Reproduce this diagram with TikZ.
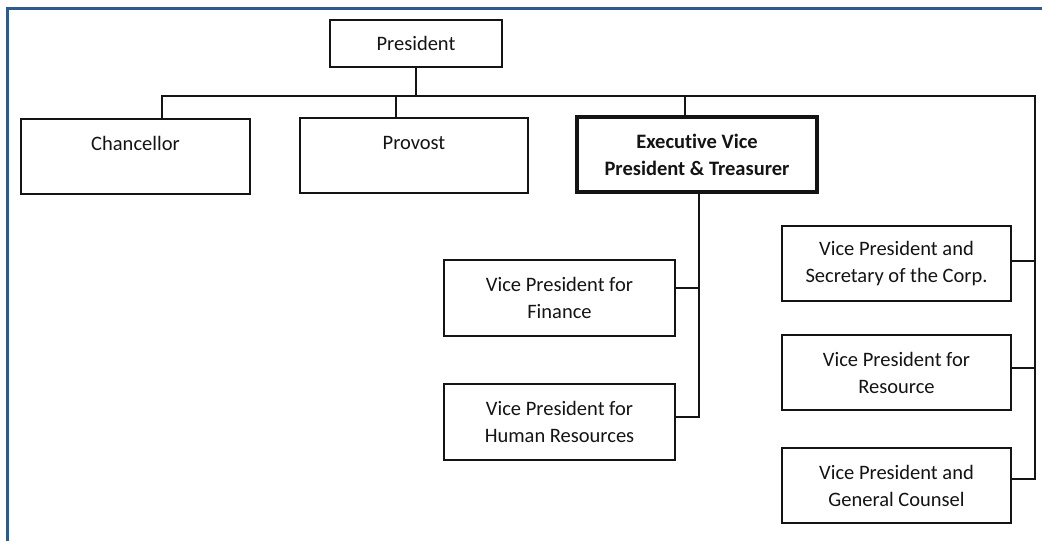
\documentclass[tikz,border=0pt]{standalone}
\usepackage{fontspec}
\setmainfont{Carlito}[Ligatures=NoCommon]
\definecolor{framecol}{RGB}{46,90,140}
\definecolor{ink}{RGB}{20,20,20}
\begin{document}
\begin{tikzpicture}[x=1pt,y=-1pt,
  every node/.style={inner sep=0pt, outer sep=0pt, text=ink,
    font=\fontsize{20.5}{27}\selectfont, align=center},
  unit/.style={draw=ink, line width=1.4pt, minimum width=229pt, minimum height=75pt},
  office/.style={unit, line width=2.9pt},
  lead/.style={unit, line width=4pt, font=\bfseries\fontsize{20.5}{27}\selectfont},
  toptext/.style={text height=31pt, text depth=44pt},
  conn/.style={draw=ink, line width=2pt},
  frame/.style={draw=framecol, line width=3pt}]
\useasboundingbox (0,0) rectangle (1042,541);
\fill[white] (0,0) rectangle (1042,541);
\draw[frame] (1042,8.5) -- (7.5,8.5) -- (7.5,541);

% top of the chart
\node[unit, minimum width=172pt, minimum height=47pt] (pres) at (416,43.5) {President};
\node[unit, toptext] (chan) at (135.5,156.5) {Chancellor};
\node[unit, toptext, minimum width=228pt] (prov) at (414,155.5) {Provost};
\node[lead, minimum width=240pt] (evp) at (697,154.5) {Execu\kern0pt tive Vice\\President \& Treasurer};

% offices under the treasurer
\node[office, minimum width=231pt, minimum height=76pt] (fin) at (559.5,298) {Vice President for\\Finance};
\node[office, minimum width=231pt, minimum height=76pt] (hr) at (559.5,422) {Vice President for\\Human Resources};

% offices reporting straight to the president
\node[office] (sec) at (896.5,263.5) {Vice President and\\Secretary of the Corp.};
\node[office] (res) at (896.5,372.5) {Vice President for\\Resource};
\node[office] (coun) at (896.5,485.5) {Vice President and\\General Counsel};

% bus under the president and the points where lines meet the boxes
\coordinate (busL) at (162,96);
\coordinate (busR) at (1035,96);
\coordinate (provtap) at (396,96);
\coordinate (evptap) at (685,96);
\coordinate (evpdown) at (699,192);
\coordinate (sectap) at ([yshift=2.5pt]sec.east);
\coordinate (restap) at ([yshift=4.5pt]res.east);
\coordinate (countap) at ([yshift=7pt]coun.east);
\coordinate (fintap) at ([yshift=10pt]fin.east);
\coordinate (hrtap) at ([yshift=5pt]hr.east);

\draw[conn] (pres.south) -- (pres.south |- busL);
\draw[conn] (busL |- chan.north) -- (busL) -- (busR) -- (busR |- countap) -- (countap);
\draw[conn] (provtap) -- (provtap |- prov.north);
\draw[conn] (evptap) -- (evptap |- evp.north);
\draw[conn] (sectap) -- (busR |- sectap);
\draw[conn] (restap) -- (busR |- restap);

% treasurer's branch
\draw[conn] (evpdown |- evp.south) -- (evpdown |- hrtap) -- (hrtap);
\draw[conn] (fintap) -- (evpdown |- fintap);
\end{tikzpicture}
\end{document}
